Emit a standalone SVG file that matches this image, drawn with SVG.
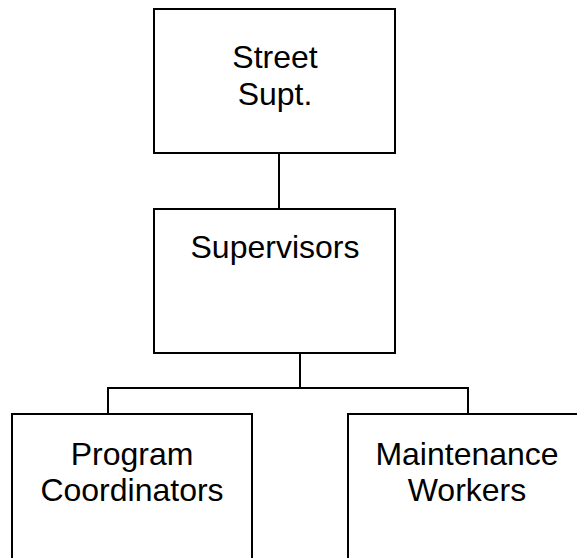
<svg xmlns="http://www.w3.org/2000/svg" width="577" height="558" viewBox="0 0 577 558">
  <style>
    .box { fill: #ffffff; stroke: #000000; stroke-width: 2; }
    .link { fill: none; stroke: #000000; stroke-width: 2; }
    .label { font-family: "Liberation Sans", Arial, sans-serif; font-size: 32px; fill: #000000; text-anchor: middle; }
  </style>
  <rect width="577" height="558" fill="#ffffff"/>

  <g id="connectors">
    <line class="link" x1="279" y1="153" x2="279" y2="209"/>
    <line class="link" x1="300" y1="353" x2="300" y2="388"/>
    <polyline class="link" points="108,414 108,388 468,388 468,414"/>
  </g>

  <g id="street-supt">
    <rect class="box" x="154" y="9" width="241" height="144"/>
    <text class="label" x="275" y="68">Street</text>
    <text class="label" x="275" y="105">Supt.</text>
  </g>

  <g id="supervisors">
    <rect class="box" x="154" y="209" width="241" height="144"/>
    <text class="label" x="275" y="258">Supervisors</text>
  </g>

  <g id="program-coordinators">
    <rect class="box" x="12" y="414" width="240" height="160"/>
    <text class="label" x="132" y="465">Program</text>
    <text class="label" x="132" y="501">Coordinators</text>
  </g>

  <g id="maintenance-workers">
    <rect class="box" x="348" y="414" width="240" height="160"/>
    <text class="label" x="467" y="465">Maintenance</text>
    <text class="label" x="467" y="501">Workers</text>
  </g>
</svg>
